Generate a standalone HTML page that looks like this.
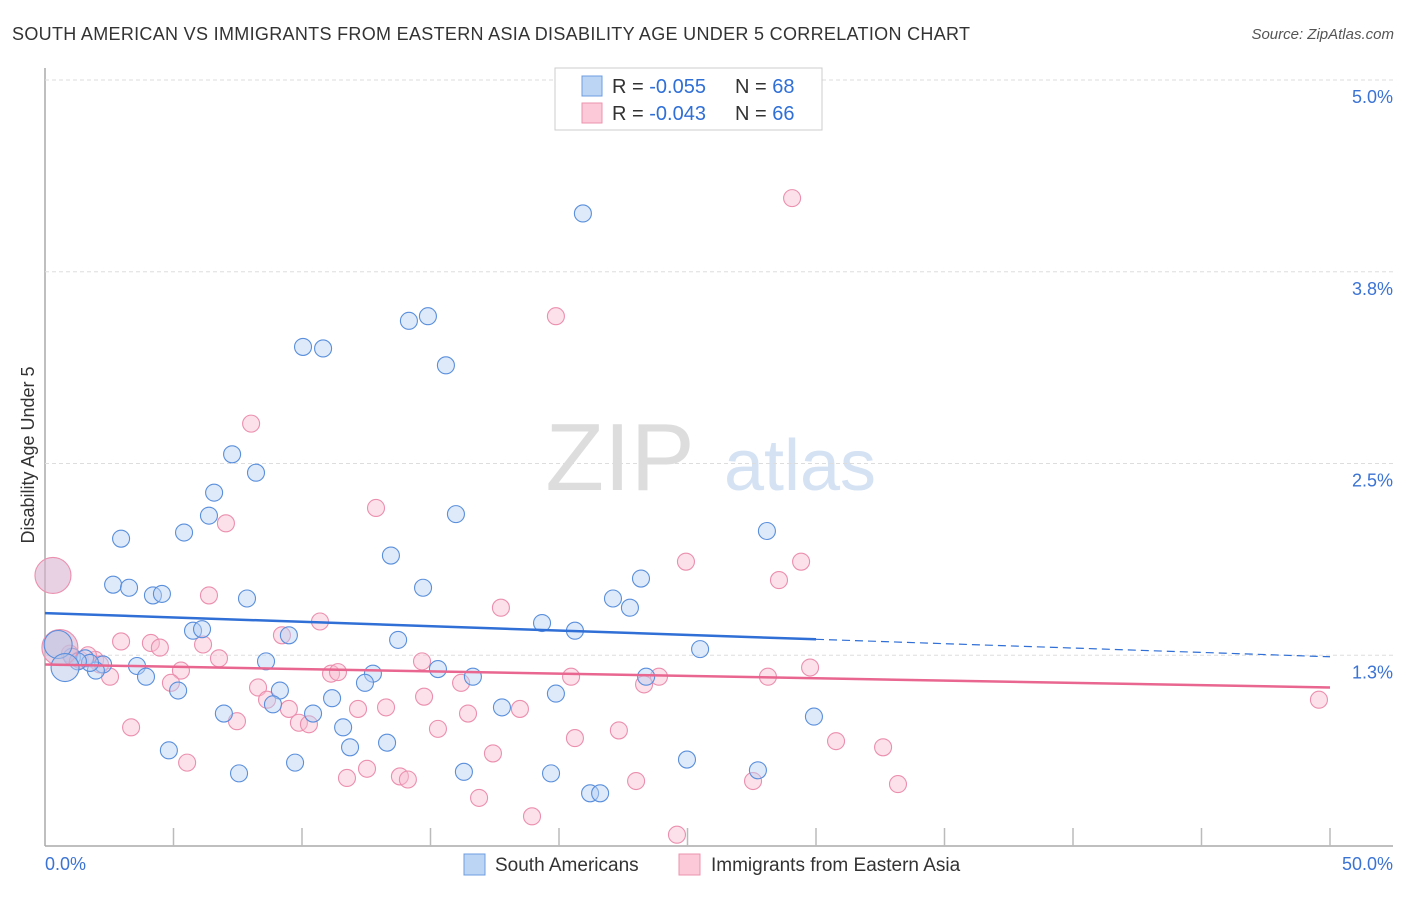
<!DOCTYPE html>
<html><head><meta charset="utf-8"><style>
body{margin:0;background:#fff;font-family:"Liberation Sans",sans-serif}
svg text{font-family:"Liberation Sans",sans-serif}
</style></head><body>
<svg id="chart" width="1406" height="892">
<text x="12" y="40" font-size="18" fill="#333" textLength="958">SOUTH AMERICAN VS IMMIGRANTS FROM EASTERN ASIA DISABILITY AGE UNDER 5 CORRELATION CHART</text>
<text x="1394" y="39" font-size="15" fill="#555" font-style="italic" text-anchor="end">Source: ZipAtlas.com</text>
<text x="620" y="490" font-size="96" fill="#ddd" font-family="Liberation Serif" text-anchor="middle">ZIP</text>
<text x="800" y="490" font-size="72" fill="#d4e2f4" text-anchor="middle">atlas</text>
<text transform="translate(34,455) rotate(-90)" font-size="18" fill="#333" text-anchor="middle">Disability Age Under 5</text>
<g id="grid"></g><g id="pts"></g><g id="trend"></g>
<g>
<rect x="555" y="68" width="267" height="62" fill="#fff" stroke="#ccc"/>
<rect x="582" y="76" width="20" height="20" fill="#bcd5f5" stroke="#6d9de0"/>
<rect x="582" y="103" width="20" height="20" fill="#fbc9d8" stroke="#ee93ae"/>
<text x="612" y="93" font-size="20" fill="#333">R = <tspan fill="#2f6fd6">-0.055</tspan><tspan x="735">N = </tspan><tspan fill="#2f6fd6">68</tspan></text>
<text x="612" y="120" font-size="20" fill="#333">R = <tspan fill="#2f6fd6">-0.043</tspan><tspan x="735">N = </tspan><tspan fill="#2f6fd6">66</tspan></text>
</g>
<g>
<rect x="464" y="854" width="21" height="21" fill="#bcd5f5" stroke="#6d9de0"/>
<text x="495" y="871" font-size="19" fill="#333">South Americans</text>
<rect x="679" y="854" width="21" height="21" fill="#fbc9d8" stroke="#ee93ae"/>
<text x="711" y="871" font-size="19" fill="#333">Immigrants from Eastern Asia</text>
</g>
</svg>
<script>
const yTicks=[5.0,3.75,2.5,1.25];
const yTickLabels=["5.0%","3.8%","2.5%","1.3%"];
const xTicks=[0,5,10,15,20,25,30,35,40,45,50];
const xEndLabels=["0.0%","50.0%"];
const blueX=[20.93,14.16,14.90,10.04,10.82,15.60,7.28,8.21,6.58,6.38,15.99,5.41,2.96,28.09,13.46,23.19,2.65,3.27,14.71,4.20,4.55,7.86,22.10,22.76,19.34,20.62,5.76,6.11,9.49,13.74,25.49,8.60,3.58,2.26,15.29,1.98,3.93,12.76,16.65,23.39,12.45,5.18,9.14,11.17,19.88,8.87,17.78,6.96,10.43,29.92,11.60,13.31,11.87,4.82,24.98,9.73,7.55,16.30,19.69,27.74,21.21,21.60,1.05,1.56,1.75,1.28];
const blueY=[4.13,3.43,3.46,3.26,3.25,3.14,2.56,2.44,2.31,2.16,2.17,2.05,2.01,2.06,1.90,1.75,1.71,1.69,1.69,1.64,1.65,1.62,1.62,1.56,1.46,1.41,1.41,1.42,1.38,1.35,1.29,1.21,1.18,1.19,1.16,1.15,1.11,1.13,1.11,1.11,1.07,1.02,1.02,0.97,1.00,0.93,0.91,0.87,0.87,0.85,0.78,0.68,0.65,0.63,0.57,0.55,0.48,0.49,0.48,0.50,0.35,0.35,1.24,1.23,1.20,1.21];
const blueBigX=[0.51,0.78];
const blueBigY=[1.32,1.17];
const pinkX=[29.07,19.88,8.02,12.88,7.04,24.94,29.42,28.56,6.38,17.74,10.70,9.22,2.96,4.12,4.47,6.15,14.67,6.77,5.29,2.53,11.13,11.40,20.47,28.13,29.77,16.19,23.31,23.89,8.29,4.90,14.75,8.64,9.49,12.18,13.27,16.46,18.48,7.47,9.88,10.27,3.35,15.29,22.33,20.62,30.78,32.61,17.43,5.53,12.53,11.75,13.81,14.12,23.00,27.55,33.19,16.89,18.95,24.59,49.57,0.97,1.36,1.95,1.67,2.14];
const pinkY=[4.23,3.46,2.76,2.21,2.11,1.86,1.86,1.74,1.64,1.56,1.47,1.38,1.34,1.33,1.30,1.32,1.21,1.23,1.15,1.11,1.13,1.14,1.11,1.11,1.17,1.07,1.06,1.11,1.04,1.07,0.98,0.96,0.90,0.90,0.91,0.87,0.90,0.82,0.81,0.80,0.78,0.77,0.76,0.71,0.69,0.65,0.61,0.55,0.51,0.45,0.46,0.44,0.43,0.43,0.41,0.32,0.20,0.08,0.96,1.26,1.22,1.22,1.25,1.19];
const pinkBigX=[0.31,0.58];
const pinkBigY=[1.77,1.30];
const blueTrend=[1.525,1.24];
const blueTrendSolidEnd=30;
const pinkTrend=[1.19,1.04];

const NS="http://www.w3.org/2000/svg";
const X=v=>45+v*25.7, Y=v=>80+(5-v)*153.4;
function mk(tag,a,parent){const e=document.createElementNS(NS,tag);for(const k in a)e.setAttribute(k,a[k]);document.getElementById(parent).appendChild(e);return e;}
let ax=mk('line',{x1:45,y1:68,x2:45,y2:846,stroke:'#aaa','stroke-width':1.5},'grid');


ax=mk('line',{x1:45,y1:846,x2:1393,y2:846,stroke:'#aaa','stroke-width':1.5},'grid');


yTicks.forEach((t,i)=>{
 const g=mk('line',{x1:45,y1:Y(t),x2:1393,y2:Y(t),stroke:'#ddd','stroke-dasharray':'4,3'},'grid');
 
 
 const l=mk('text',{x:1393,y:Y(t)+23,'font-size':18,fill:'#3b73d4','text-anchor':'end'},'grid');
 l.textContent=yTickLabels[i];
 
 
});
xTicks.slice(1).forEach(t=>{
 const k=mk('line',{x1:X(t),y1:828,x2:X(t),y2:846,stroke:'#bbb','stroke-width':1.5},'grid');
 
 
});
let xl=mk('text',{x:45,y:870,'font-size':18,fill:'#3b73d4'},'grid');xl.textContent=xEndLabels[0];


xl=mk('text',{x:1393,y:870,'font-size':18,fill:'#3b73d4','text-anchor':'end'},'grid');xl.textContent=xEndLabels[1];


function pts(xs,ys,r,fill,stroke,op,name){xs.forEach((x,i)=>{
 const c=mk('circle',{cx:X(x),cy:Y(ys[i]),r:r,fill:fill,'fill-opacity':op,stroke:stroke,'stroke-width':1.1},'pts');
 
 
});}
pts(pinkX,pinkY,8.5,'#f8bcd0','#eb8fae',0.45,'point-eastern-asia');
pts(blueX,blueY,8.5,'#b5d0f3','#5a8fdc',0.45,'point-south-american');
pts(pinkBigX,pinkBigY,18,'#d9b3cf','#eb8fae',0.6,'point-eastern-asia-large');
pts(blueBigX,blueBigY,14,'#b5c5e8','#5a8fdc',0.5,'point-south-american-large');
const slope=(blueTrend[1]-blueTrend[0])/50, bAt=x=>blueTrend[0]+slope*x;
let t=mk('line',{x1:X(0),y1:Y(blueTrend[0]),x2:X(blueTrendSolidEnd),y2:Y(bAt(blueTrendSolidEnd)),stroke:'#2f6fd6','stroke-width':2.5},'trend');


t=mk('line',{x1:X(blueTrendSolidEnd),y1:Y(bAt(blueTrendSolidEnd)),x2:X(50),y2:Y(blueTrend[1]),stroke:'#2f6fd6','stroke-width':1.2,'stroke-dasharray':'8,5'},'trend');


t=mk('line',{x1:X(0),y1:Y(pinkTrend[0]),x2:X(50),y2:Y(pinkTrend[1]),stroke:'#e8668f','stroke-width':2.5},'trend');


</script>
</body></html>
